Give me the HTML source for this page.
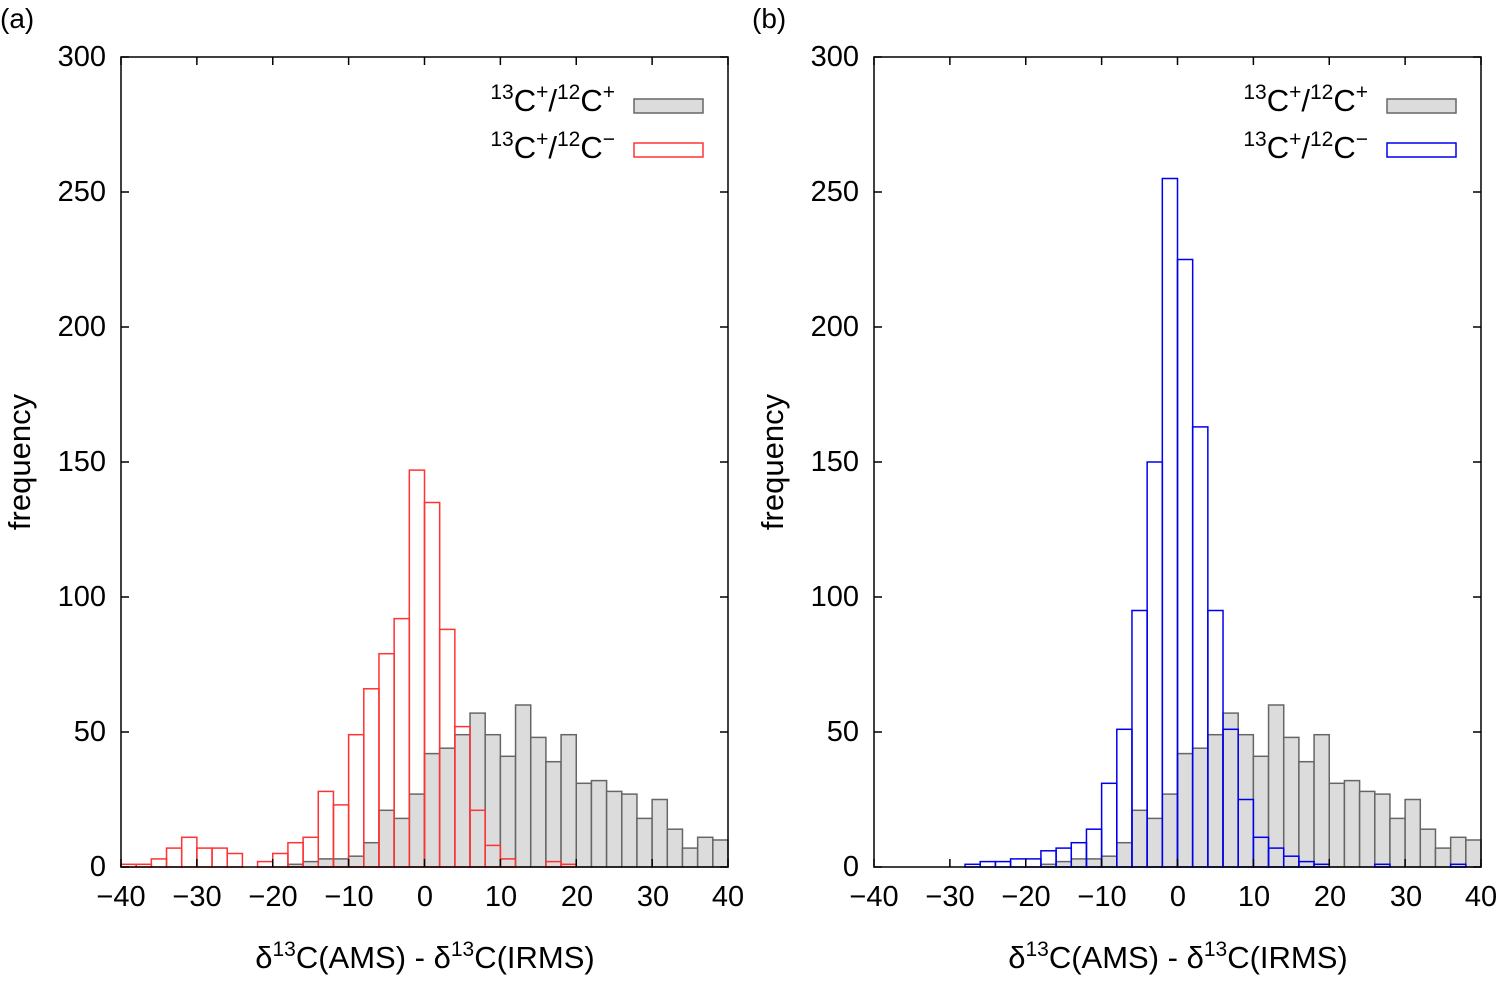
<!DOCTYPE html>
<html><head><meta charset="utf-8"><style>
body{margin:0;background:#fff}
svg text{font-family:"Liberation Sans",sans-serif;fill:#000}
</style></head><body>
<svg id="s" width="1502" height="977" xmlns="http://www.w3.org/2000/svg">
<text x="0" y="28" font-size="28">(a)</text>
<text x="752" y="28" font-size="28">(b)</text>
<g id="pa"></g><g id="pb"></g>
<g font-size="29" text-anchor="end">
<text x="106" y="66">300</text><text x="106" y="201">250</text><text x="106" y="336">200</text><text x="106" y="471">150</text><text x="106" y="606">100</text><text x="106" y="741">50</text><text x="106" y="876">0</text>
<text x="859" y="66">300</text><text x="859" y="201">250</text><text x="859" y="336">200</text><text x="859" y="471">150</text><text x="859" y="606">100</text><text x="859" y="741">50</text><text x="859" y="876">0</text>
</g>
<g font-size="29" text-anchor="middle">
<text x="121" y="906">−40</text><text x="197" y="906">−30</text><text x="273" y="906">−20</text><text x="349" y="906">−10</text><text x="425" y="906">0</text><text x="501" y="906">10</text><text x="577" y="906">20</text><text x="653" y="906">30</text><text x="728" y="906">40</text>
<text x="874" y="906">−40</text><text x="950" y="906">−30</text><text x="1026" y="906">−20</text><text x="1102" y="906">−10</text><text x="1178" y="906">0</text><text x="1254" y="906">10</text><text x="1330" y="906">20</text><text x="1406" y="906">30</text><text x="1481" y="906">40</text>
</g>
<g font-size="31" text-anchor="middle">
<text x="425" y="968">δ<tspan font-size="21" dy="-12">13</tspan><tspan dy="12">C(AMS) - δ</tspan><tspan font-size="21" dy="-12">13</tspan><tspan dy="12">C(IRMS)</tspan></text>
<text x="1178" y="968">δ<tspan font-size="21" dy="-12">13</tspan><tspan dy="12">C(AMS) - δ</tspan><tspan font-size="21" dy="-12">13</tspan><tspan dy="12">C(IRMS)</tspan></text>
<text transform="translate(30,462) rotate(-90)">frequency</text>
<text transform="translate(783,462) rotate(-90)">frequency</text>
</g>
<g font-size="31" text-anchor="end">
<text x="615" y="111"><tspan font-size="21" dy="-12">13</tspan><tspan dy="12">C</tspan><tspan font-size="21" dy="-12">+</tspan><tspan dy="12">/</tspan><tspan font-size="21" dy="-12">12</tspan><tspan dy="12">C</tspan><tspan font-size="21" dy="-12">+</tspan></text>
<text x="615" y="158"><tspan font-size="21" dy="-12">13</tspan><tspan dy="12">C</tspan><tspan font-size="21" dy="-12">+</tspan><tspan dy="12">/</tspan><tspan font-size="21" dy="-12">12</tspan><tspan dy="12">C</tspan><tspan font-size="21" dy="-12">−</tspan></text>
<text x="1368" y="111"><tspan font-size="21" dy="-12">13</tspan><tspan dy="12">C</tspan><tspan font-size="21" dy="-12">+</tspan><tspan dy="12">/</tspan><tspan font-size="21" dy="-12">12</tspan><tspan dy="12">C</tspan><tspan font-size="21" dy="-12">+</tspan></text>
<text x="1368" y="158"><tspan font-size="21" dy="-12">13</tspan><tspan dy="12">C</tspan><tspan font-size="21" dy="-12">+</tspan><tspan dy="12">/</tspan><tspan font-size="21" dy="-12">12</tspan><tspan dy="12">C</tspan><tspan font-size="21" dy="-12">−</tspan></text>
</g>
<rect x="634" y="99" width="69" height="14" fill="#dcdcdc" stroke="#666" stroke-width="1.5"/>
<rect x="634" y="143" width="69" height="14" fill="none" stroke="#ff3333" stroke-width="1.5"/>
<rect x="1387" y="99" width="69" height="14" fill="#dcdcdc" stroke="#666" stroke-width="1.5"/>
<rect x="1387" y="143" width="69" height="14" fill="none" stroke="#0000ee" stroke-width="1.5"/>
</svg>
<script>
var gray=[0,0,0,0,0,0,0,0,0,0,0,1,2,3,3,4,9,21,18,27,42,44,49,57,49,41,60,48,39,49,31,32,28,27,18,25,14,7,11,10];
var red=[1,1,3,7,11,7,7,5,0,2,5,9,11,28,23,49,66,79,92,147,135,88,52,21,8,3,0,0,2,1,0,0,0,0,0,0,0,0,0,0];
var blue=[0,0,0,0,0,0,1,2,2,3,3,6,7,9,14,31,51,95,150,255,225,163,95,51,25,11,7,4,2,1,0,0,0,1,0,0,0,0,1,0];
var NS="http://www.w3.org/2000/svg";
function el(g,t,a){var e=document.createElementNS(NS,t);for(var k in a)e.setAttribute(k,a[k]);g.appendChild(e);return e;}
function panel(id,x0,col){
 var g=document.getElementById(id),w=607/40,y0=867,s=2.7;
 for(var i=0;i<40;i++)if(gray[i]>0)el(g,'rect',{x:x0+i*w,y:y0-gray[i]*s,width:w,height:gray[i]*s,fill:'#dcdcdc',stroke:'#666','stroke-width':1.5});
 var d=col=='r'?red:blue,c=col=='r'?'#ff3333':'#0000ee';
 for(var i=0;i<40;i++)if(d[i]>0)el(g,'rect',{x:x0+i*w,y:y0-d[i]*s,width:w,height:d[i]*s,fill:'none',stroke:c,'stroke-width':1.5});
 el(g,'rect',{x:x0,y:57,width:607,height:810,fill:'none',stroke:'#000','stroke-width':1.5});
 for(var k=0;k<=8;k++){var x=x0+k*607/8;el(g,'line',{x1:x,y1:867,x2:x,y2:859,stroke:'#000','stroke-width':1.5});el(g,'line',{x1:x,y1:57,x2:x,y2:65,stroke:'#000','stroke-width':1.5});}
 for(var k=0;k<=6;k++){var y=867-k*135;el(g,'line',{x1:x0,y1:y,x2:x0+8,y2:y,stroke:'#000','stroke-width':1.5});el(g,'line',{x1:x0+607,y1:y,x2:x0+599,y2:y,stroke:'#000','stroke-width':1.5});}
}
panel('pa',121,'r');panel('pb',874,'b');
</script>
</body></html>
